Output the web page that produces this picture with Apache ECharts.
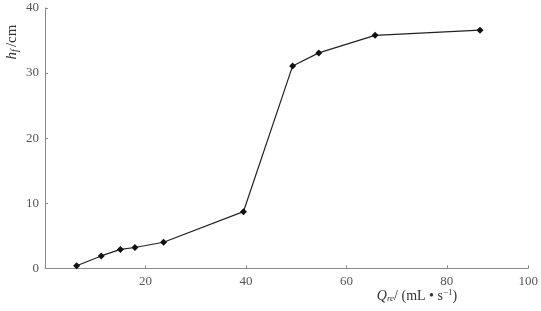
<!DOCTYPE html>
<html><head><meta charset="utf-8">
<script src="https://cdn.jsdelivr.net/npm/echarts@6/dist/echarts.min.js"></script>
<style>html,body{margin:0;padding:0;background:#fff}#c{width:541px;height:311px}</style>
</head><body><div id="c"></div>
<script>
// Data
var qValues = [6.3, 11.2, 15.0, 17.9, 23.6, 39.5, 49.3, 54.5, 65.7, 86.6];
var hValues = [0.4, 1.9, 2.9, 3.2, 4.0, 8.7, 31.1, 33.1, 35.8, 36.6];
// The drawn x axis ends at about 96 but its last label reads 100
var xTickValues = [20, 40, 60, 80, 96.2];
var xTickLabels = ['20', '40', '60', '80', '100'];
var yTickLabels = ['0', '10', '20', '30', '40'];

var font = '"Liberation Serif", "DejaVu Serif", serif';
var chart = echarts.init(document.getElementById('c'), null, {renderer: 'canvas'});
var pts = qValues.map(function (q, i) { return [q, hValues[i]]; });
chart.setOption({
  animation: false,
  grid: {left: 45, right: 10.3, top: 8, bottom: 42.7, containLabel: false},
  xAxis: {
    type: 'value', min: 0, max: 96.2,
    axisLine: {lineStyle: {color: '#8a8a8a', width: 1}},
    axisTick: {show: true, inside: true, length: 3, lineStyle: {color: '#8a8a8a'}, customValues: xTickValues},
    axisLabel: {
      color: '#555', fontFamily: font, fontSize: 13, margin: 7,
      customValues: xTickValues,
      formatter: function (v) { var i = xTickValues.indexOf(v); return i >= 0 ? xTickLabels[i] : ''; }
    },
    splitLine: {show: false}
  },
  yAxis: {
    type: 'value', min: 0, max: 40, interval: 10,
    axisLine: {show: true, lineStyle: {color: '#8a8a8a', width: 1}},
    axisTick: {show: true, inside: true, length: 3, lineStyle: {color: '#8a8a8a'}},
    axisLabel: {
      color: '#555', fontFamily: font, fontSize: 13, margin: 6,
      formatter: function (v) { return yTickLabels[Math.round(v / 10)]; }
    },
    splitLine: {show: false}
  },
  graphic: [
    {
      type: 'text', x: 12, y: 42, rotation: Math.PI / 2,
      style: {
        text: '{i|h}{s|f}{n|/cm}', align: 'center', verticalAlign: 'middle',
        rich: {
          i: {fontFamily: font, fontStyle: 'italic', fontSize: 15, fill: '#333'},
          s: {fontFamily: font, fontStyle: 'italic', fontSize: 10, fill: '#333', padding: [6, 2, 0, 0]},
          n: {fontFamily: font, fontSize: 15, fill: '#333'}
        }
      }
    },
    {
      type: 'text', x: 417, y: 296,
      style: {
        text: '{i|Q}{s|re}{n|/ (mL • s}{p|−1}{n|)}', align: 'center', verticalAlign: 'middle',
        rich: {
          i: {fontFamily: font, fontStyle: 'italic', fontSize: 14, fill: '#333'},
          s: {fontFamily: font, fontStyle: 'italic', fontSize: 9, fill: '#333', padding: [6, 0, 0, 0]},
          n: {fontFamily: font, fontSize: 14, fill: '#333'},
          p: {fontFamily: font, fontSize: 9, fill: '#333', padding: [0, 0, 6, 0]}
        }
      }
    }
  ],
  series: [{
    type: 'line', data: pts,
    symbol: 'diamond', symbolSize: 7,
    itemStyle: {color: '#111'},
    lineStyle: {color: '#222', width: 1.2}
  }]
});
</script></body></html>
